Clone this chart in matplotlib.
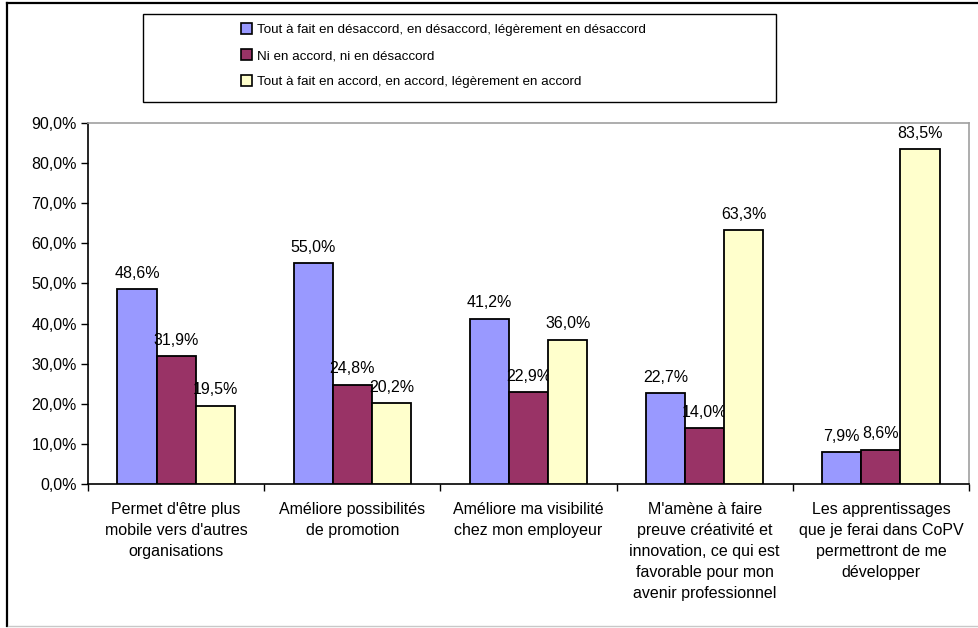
import numpy as np
import matplotlib
matplotlib.use('Agg')
import matplotlib.pyplot as plt
from matplotlib.patches import Rectangle, Patch
from matplotlib.lines import Line2D
import matplotlib.ticker as plt_ticker

plt.rcParams['font.family'] = ['Liberation Sans', 'DejaVu Sans']

# données
categories = [
    "Permet d'être plus\nmobile vers d'autres\norganisations",
    "Améliore possibilités\nde promotion",
    "Améliore ma visibilité\nchez mon employeur",
    "M'amène à faire\npreuve créativité et\ninnovation, ce qui est\nfavorable pour mon\navenir professionnel",
    "Les apprentissages\nque je ferai dans CoPV\npermettront de me\ndévelopper",
]
series_names = [
    "Tout à fait en désaccord, en désaccord, légèrement en désaccord",
    "Ni en accord, ni en désaccord",
    "Tout à fait en accord, en accord, légèrement en accord",
]
desaccord = [48.6, 55.0, 41.2, 22.7, 7.9]
neutre = [31.9, 24.8, 22.9, 14.0, 8.6]
accord = [19.5, 20.2, 36.0, 63.3, 83.5]
yticks = np.arange(0, 91, 10)

colors = ['#9999FF', '#993366', '#FFFFCC']
fs = 11.5

W, H = 979, 628
fig = plt.figure(figsize=(W / 100, H / 100), dpi=100)

# cadre extérieur
fig.add_artist(Line2D([7 / W, 978 / W], [1 - 3 / H, 1 - 3 / H], color='black', lw=1.6))
fig.add_artist(Line2D([7 / W, 7 / W], [1 - 3 / H, 1 - 626 / H], color='black', lw=1.6))
fig.add_artist(Line2D([8 / W, 978 / W], [1 - 626 / H, 1 - 626 / H], color='#C8C8C8', lw=1.0))

ax = fig.add_axes([88 / W, 1 - 484 / H, (969 - 88) / W, (484 - 123) / H])

x = np.arange(len(categories))
bw = 1 / 4.5
for i, (vals, c) in enumerate(zip([desaccord, neutre, accord], colors)):
    pos = x + (i - 1) * bw
    ax.bar(pos, vals, width=bw, color=c, edgecolor='black', linewidth=1.3, zorder=3)
    for p, v in zip(pos, vals):
        ax.annotate(f"{v:.1f}%".replace('.', ','), (p, v), xytext=(0, 6),
                    textcoords='offset points', ha='center', va='bottom', fontsize=fs)

ax.set_xlim(-0.5, len(categories) - 0.5)
ax.set_ylim(0, 90)
ax.set_yticks(yticks)
ax.yaxis.set_major_formatter(plt_ticker.FuncFormatter(lambda v, _: f"{v:.1f}%".replace('.', ',')))
ax.set_xticks(x)
ax.set_xticklabels(categories, fontsize=fs, linespacing=1.5, va='top')
ax.tick_params(axis='x', length=0, pad=13)
ax.set_xticks(np.arange(-0.5, len(categories), 1), minor=True)
ax.tick_params(axis='x', which='minor', length=5, width=1)
ax.tick_params(axis='y', labelsize=fs, length=5, width=1, pad=3)

for s in ['top', 'right']:
    ax.spines[s].set_color('#A0A0A0')
    ax.spines[s].set_linewidth(1.2)
for s in ['left', 'bottom']:
    ax.spines[s].set_color('black')
    ax.spines[s].set_linewidth(1.2)

# légende
fig.add_artist(Rectangle((143 / W, 1 - 102 / H), (776 - 143) / W, (102 - 14) / H,
                         transform=fig.transFigure, fill=False, edgecolor='black', lw=1.0))
handles = [Patch(facecolor=c, edgecolor='black', linewidth=1.2) for c in colors]
fig.legend(handles, series_names, loc='upper left', bbox_to_anchor=(232 / W, 1 - 14 / H),
           frameon=False, fontsize=9.6, handlelength=0.8, handleheight=0.8,
           handletextpad=0.35, labelspacing=1.0, borderpad=0.2)

fig.savefig('out.png', dpi=100)
